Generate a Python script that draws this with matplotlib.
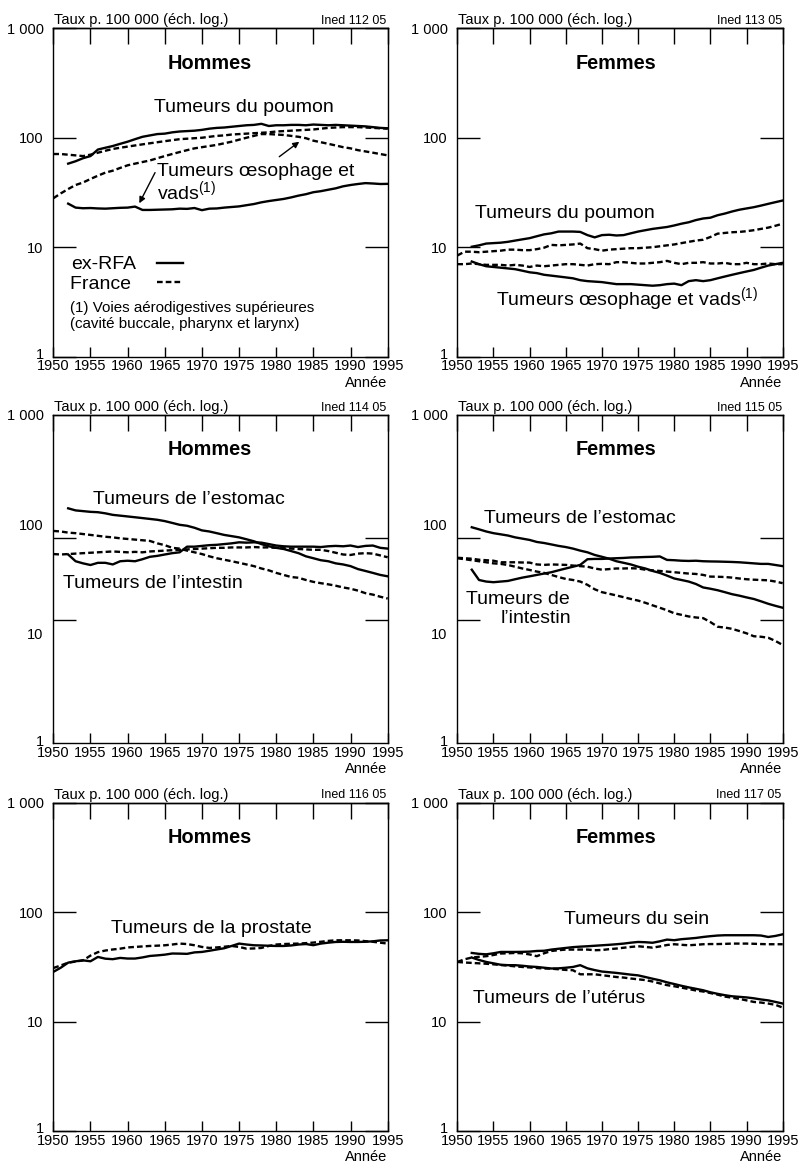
import matplotlib
matplotlib.use('Agg')
import matplotlib.pyplot as plt
import matplotlib.transforms as mtransforms
import numpy as np
from matplotlib.lines import Line2D
from matplotlib.ticker import FixedLocator, NullLocator, NullFormatter

plt.rcParams['font.family'] = ['Liberation Sans', 'DejaVu Sans']
plt.rcParams['mathtext.fontset'] = 'custom'
plt.rcParams['mathtext.rm'] = 'Liberation Sans'

# années : France dès 1950, ex-RFA dès 1952 (sauf prostate)
years_fr = np.arange(1950, 1996)
years_rfa = np.arange(1952, 1996)

# --- Hommes : poumon / oesophage et vads
h_rfa_poumon = [58, 61, 65, 68, 78, 81, 84, 88, 92, 97, 102, 105, 108, 109, 112, 114, 115, 116, 118, 121,
                123, 124, 126, 128, 130, 131, 134, 128, 130, 130, 131, 131, 130, 132, 131, 130, 131, 130, 129, 128,
                127, 125, 123, 122]
h_fr_poumon = [71, 71, 70, 69, 68, 70, 73, 76, 79, 81, 83, 85, 87, 89, 91, 93, 95, 97, 98, 99,
               100, 102, 104, 105, 107, 108, 109, 110, 111, 112, 114, 115, 116, 117, 118, 119, 121, 123, 124, 125,
               125, 125, 124, 123, 122, 121]
h_fr_oeso = [28, 31, 34, 37, 39, 42, 45, 48, 50, 53, 56, 58, 60, 62, 65, 68, 71, 74, 77, 80,
             82, 84, 86, 89, 92, 96, 100, 104, 108, 108, 107, 106, 104, 102, 99, 94, 91, 88, 85, 82,
             80, 77, 75, 73, 71, 69]
h_rfa_oeso = [25, 23, 22.7, 22.8, 22.6, 22.5, 22.7, 22.9, 23.0, 23.5, 21.9, 21.9, 22.0, 22.1, 22.2, 22.5, 22.4, 22.8, 21.8, 22.5,
              22.6, 23.0, 23.3, 23.6, 24.2, 24.8, 25.7, 26.4, 27.0, 27.6, 28.5, 29.6, 30.5, 31.8, 32.5, 33.5, 34.5, 36, 37, 37.8,
              38.5, 38.2, 37.8, 37.9]

# --- Femmes : poumon / oesophage et vads
f_rfa_poumon = [10.1, 10.4, 10.8, 10.9, 11.0, 11.2, 11.5, 11.8, 12.1, 12.6, 13.1, 13.4, 13.9, 13.9, 13.9, 13.8, 12.9, 12.3, 12.9, 13.0,
                12.8, 12.9, 13.4, 13.9, 14.3, 14.7, 15.0, 15.3, 15.8, 16.4, 16.9, 17.7, 18.3, 18.6, 19.6, 20.3, 21.2, 22.0, 22.6, 23.2,
                24.0, 24.9, 25.8, 26.7]
f_fr_poumon = [8.4, 9.1, 9.1, 9.0, 9.1, 9.2, 9.3, 9.5, 9.5, 9.4, 9.4, 9.6, 9.9, 10.5, 10.4, 10.5, 10.6, 10.8, 9.8, 9.6,
               9.3, 9.5, 9.6, 9.7, 9.8, 9.8, 9.9, 10.0, 10.2, 10.4, 10.6, 10.9, 11.2, 11.5, 11.7, 12.4, 13.3, 13.5, 13.7, 13.8,
               14.0, 14.3, 14.7, 15.1, 15.7, 16.4]
f_fr_oeso = [7.0, 7.0, 7.1, 7.0, 6.9, 6.9, 6.9, 6.8, 6.9, 6.8, 6.6, 6.8, 6.7, 6.8, 6.9, 7.0, 7.0, 6.9, 6.8, 7.0,
             7.05, 7.0, 7.3, 7.3, 7.2, 7.1, 7.1, 7.2, 7.3, 7.5, 7.2, 7.0, 7.2, 7.2, 7.3, 7.1, 7.1, 7.2, 7.0, 7.0,
             7.2, 7.0, 7.0, 7.1, 7.0, 7.0]
f_rfa_oeso = [7.4, 7.0, 6.7, 6.6, 6.5, 6.4, 6.3, 6.1, 5.9, 5.8, 5.6, 5.5, 5.4, 5.3, 5.2, 5.0, 4.9, 4.85, 4.8, 4.7,
              4.6, 4.6, 4.6, 4.55, 4.5, 4.45, 4.5, 4.6, 4.65, 4.5, 4.9, 5.0, 4.9, 5.0, 5.2, 5.4, 5.6, 5.8, 6.0, 6.2,
              6.5, 6.8, 7.0, 7.2]

# --- Hommes : estomac / intestin
h_rfa_estomac = [140, 134, 132, 130, 129, 126, 122, 120, 118, 116, 114, 112, 110, 107, 103, 99, 97, 93, 88, 86,
                 83, 80, 78, 76, 73, 70, 66, 63, 61, 59.5, 57, 54.5, 51, 49, 47, 46, 44, 43, 41.5, 39,
                 37.5, 36, 34.5, 33.5]
h_fr_estomac = [87, 86, 84, 83, 81.5, 80, 78.5, 77, 76, 74.5, 73.5, 72.5, 71.5, 70.5, 67, 64.5, 61, 60, 57.5, 55.5,
                53.5, 51, 49, 47.5, 46, 44.5, 43, 41.5, 39.5, 38, 36, 34.5, 33, 32.5, 31, 29.8, 29, 28.3, 27.5, 26.5,
                25.8, 24.8, 23.5, 22.8, 21.8, 21]
h_rfa_intestin = [53, 46, 44, 42.5, 44.5, 44.5, 43, 46, 46.5, 46, 48, 50.5, 51.5, 53, 54.5, 55.5, 62.5, 62.5, 63.5, 64.5,
                  65, 66, 67, 68.5, 68, 68.5, 68, 66, 64, 63, 62.5, 62.5, 62.5, 62.5, 62, 63, 63.5, 63, 64, 62,
                  63.5, 64, 61, 60]
h_fr_intestin = [53.5, 53, 53.5, 54, 54.5, 55, 55.5, 56, 56.5, 56, 55.5, 56, 55.5, 56.5, 57, 57.5, 58, 58.5, 59, 59.5,
                 60, 60.5, 61, 61, 61.5, 61.5, 61.5, 62, 61.5, 61.5, 61, 60.5, 60, 59.5, 59, 58.5, 58.5, 57, 55, 53,
                 52.5, 54, 54.5, 54, 52, 50]

# --- Femmes : estomac / intestin
f_rfa_estomac = [94, 90, 86, 83, 81, 79, 76, 74, 72, 69, 67.5, 65.5, 63.5, 62, 60, 57.5, 55.5, 52.5, 50.5, 48.5,
                 46, 44.5, 43, 41, 39.5, 37.5, 36, 34, 32, 31, 30, 28.5, 26.5, 25.8, 25, 24, 23, 22.3, 21.5, 20.8,
                 19.8, 18.8, 18, 17.3]
f_rfa_intestin = [38.5, 31, 30, 29.6, 30, 30.4, 31.5, 32.6, 33.5, 34.5, 35.5, 36.5, 38, 39.5, 41, 42.6, 48, 48.3, 48.3, 48.7,
                  49, 49.3, 49.8, 50, 50.3, 50.5, 50.9, 47.3, 47, 46.5, 46.3, 46.5, 46, 45.8, 45.7, 45.5, 45.3, 45, 44.5, 44,
                  43.5, 43.5, 42.5, 41.5]
f_fr_estomac = [49, 48, 47, 46, 45, 44, 43.5, 42.5, 41, 39.5, 38.3, 37, 36, 34.5, 33, 31.7, 31, 30, 28, 25.5,
                24, 23.2, 22.4, 21.6, 20.8, 20.1, 19.2, 18.2, 17.3, 16.4, 15.4, 14.9, 14.4, 14.1, 13.9, 12.8, 11.6, 11.4, 11.1, 10.6,
                10.1, 9.5, 9.4, 9.2, 8.6, 7.9]
f_fr_intestin = [49.5, 49, 48.5, 47.5, 47, 46.5, 45, 45, 45, 44.8, 44.7, 43, 42.6, 43, 42.8, 42.6, 42, 41.5, 41, 39.5,
                 38.5, 39, 39.5, 39.5, 39.7, 39.5, 38.5, 38, 37.5, 37, 36.5, 36, 35.5, 35.2, 34.5, 33.3, 33.2, 33, 32.6, 32,
                 31.5, 31.2, 31, 30.8, 30, 29]

# --- Hommes : prostate (les deux séries dès 1950)
h_rfa_prostate = [28.4, 31, 34.5, 35.5, 36.2, 35.5, 38.9, 37.5, 37.1, 38.1, 37.6, 37.6, 38.5, 39.7, 40.2, 40.8, 41.8, 41.7, 41.5, 42.8,
                  43.2, 44.3, 45.5, 46.7, 49, 51.5, 50.5, 49.7, 49.5, 49.2, 49, 49, 49.5, 50.5, 51, 49.8, 51.5, 52.5, 53.3, 53.5,
                  53.3, 53.3, 53.5, 54, 55, 55.2]
h_fr_prostate = [30.8, 32.5, 34.5, 35.3, 36.2, 40, 43, 44.5, 45.5, 46.3, 47.5, 48, 48.5, 49, 49.3, 49.7, 50.5, 51.5, 51, 49.7,
                 48, 47, 47.5, 48.2, 49, 48, 46.3, 46.5, 47, 49, 50.5, 51, 51.3, 51.5, 52, 52.6, 53.5, 54.5, 55.2, 55.2,
                 55.2, 55, 54.2, 53.5, 52.5, 51.5]

# --- Femmes : sein / utérus
f_rfa_sein = [42.3, 41.5, 41.1, 42, 43.2, 43.2, 43.2, 43.3, 43.5, 44.1, 44.3, 45.4, 46.2, 47, 47.8, 48.3, 48.7, 49.2, 49.7, 50.2,
              50.8, 51.5, 52.5, 53.3, 53, 52.4, 54, 56, 55.3, 56.5, 57.2, 58, 59.2, 60.2, 61, 61.4, 61.4, 61.4, 61.4, 61.4,
              61, 59.2, 60.5, 62.6]
f_fr_sein = [35, 37, 38.4, 39, 39.5, 40.5, 41.8, 42, 42.3, 42, 41, 39.5, 42, 44.1, 44.8, 45.4, 45.4, 45.4, 45.4, 44.8,
             45, 45.8, 46.4, 47.2, 48, 48.7, 48, 47.3, 48.5, 50, 50.8, 50.2, 49.7, 50.2, 50.8, 51, 51, 51.2, 51.5, 51.5,
             51.5, 51.3, 51, 50.8, 50.8, 50.8]
f_rfa_uterus = [38.4, 36.5, 35, 34, 33, 32.7, 32.7, 32.3, 31.8, 31.5, 31, 30.5, 30.6, 31, 31.5, 32.7, 30.6, 29.5, 28.6, 28.2,
                27.8, 27.3, 26.8, 26.4, 25.5, 24.6, 23.8, 22.8, 22, 21.2, 20.5, 19.9, 19.3, 18.5, 17.9, 17.4, 17, 16.8, 16.6, 16.3,
                15.9, 15.6, 15.1, 14.6]
f_fr_uterus = [35, 34.6, 34.3, 34, 33.7, 33.3, 32.8, 32.4, 31.9, 31.5, 31.2, 30.8, 30.5, 30.4, 30, 29.6, 29.4, 27, 27, 27,
               26.5, 26, 25.5, 25.2, 24.7, 24.3, 23.9, 23.2, 22.3, 21.5, 21, 20.4, 19.8, 19.2, 18.8, 18.2, 17.6, 16.9, 16.5, 16.1,
               15.6, 15.1, 14.9, 14.6, 14.2, 13.4]

xticks = list(range(1950, 2000, 5))
yticks = [1, 10, 100, 1000]
ytick_labels = ['1', '10', '100', '1 000']
codes = ['Ined 112 05', 'Ined 113 05', 'Ined 114 05', 'Ined 115 05', 'Ined 116 05', 'Ined 117 05']

DASH = (0, (2.4, 1.3))
LW = 1.7
AP = '\u2019'

fig = plt.figure(figsize=(8.04, 11.63), dpi=100)

col_left = [0.0663, 0.5688]
col_width = [0.4159, 0.4047]
row_bottom = [0.6933, 0.3609, 0.02752]
row_height = 0.2824


def solid(ax, x, y):
    ax.plot(x, y, color='black', lw=LW, solid_joinstyle='round')


def dashed(ax, x, y):
    ax.plot(x, y, color='black', lw=LW, linestyle=DASH, dash_capstyle='butt')


def setup(ax, code, sexe, title_x, odd_ticks=False):
    ax.set_yscale('log')
    ax.set_xlim(1950, 1995)
    ax.set_ylim(1, 1000)
    ax.set_xticks(xticks)
    ax.set_xticklabels([str(t) for t in xticks])
    ax.set_yticks(yticks)
    ax.set_yticklabels(ytick_labels)
    for s in ax.spines.values():
        s.set_linewidth(1.0)
    ax.tick_params(axis='x', direction='in', length=7.2, width=1, pad=2,
                   labelsize=10.5, top=False, bottom=True)
    ax.tick_params(axis='y', which='both', direction='in', length=16.5, width=1,
                   pad=7, labelsize=10.5, left=True, right=True)
    if odd_ticks:
        # dans l'original, les traits de repère sont décalés par rapport aux libellés
        ax.tick_params(axis='y', which='major', length=0)
        ax.yaxis.set_minor_locator(FixedLocator([10 ** 1.127, 10 ** 1.873]))
        ax.yaxis.set_minor_formatter(NullFormatter())
    else:
        ax.yaxis.set_minor_locator(NullLocator())
    # le libellé "1" est un peu remonté, au-dessus de "1950"
    lift = mtransforms.ScaledTranslation(0, 3 / 100, fig.dpi_scale_trans)
    ax.get_yticklabels()[0].set_transform(ax.get_yticklabels()[0].get_transform() + lift)

    top = ax.secondary_xaxis('top')
    top.set_xticks(xticks)
    top.set_xticklabels([])
    top.tick_params(direction='in', length=11.5, width=1)
    top.spines['top'].set_linewidth(1.0)

    ax.text(0.003, 1.012, 'Taux p. 100 000 (éch. log.)', transform=ax.transAxes,
            ha='left', va='baseline', fontsize=10.5)
    ax.text(0.997, 1.013, code, transform=ax.transAxes, ha='right', va='baseline', fontsize=9)
    ax.text(1.0, -0.079, 'Année', transform=ax.transAxes, ha='right', va='center', fontsize=10.5)
    ax.text(title_x, 0.893, sexe, transform=ax.transAxes, ha='center', va='center',
            fontsize=14.3, fontweight='bold')


axes = []
for r in range(3):
    for c in range(2):
        axes.append(fig.add_axes([col_left[c], row_bottom[r], col_width[c], row_height]))

FS = 14

# Panneau 1 : Hommes, poumon / oesophage
ax = axes[0]
setup(ax, codes[0], 'Hommes', 0.4686)
dashed(ax, years_fr, h_fr_poumon)
dashed(ax, years_fr, h_fr_oeso)
solid(ax, years_rfa, h_rfa_poumon)
solid(ax, years_rfa, h_rfa_oeso)
ax.text(1963.55, 173, 'Tumeurs du poumon', fontsize=FS, va='baseline')
ax.text(1964.0, 44.8, 'Tumeurs œsophage et', fontsize=FS, va='baseline')
ax.text(1964.0, 27, r'vads$^{\mathrm{(1)}}$', fontsize=FS, va='baseline')
ax.annotate('', xy=(1961.57, 25.2), xytext=(1963.69, 48),
            arrowprops=dict(arrowstyle='-|>', lw=1, color='black', mutation_scale=9, shrinkA=0, shrinkB=0))
ax.annotate('', xy=(1983.1, 92), xytext=(1980.41, 67.1),
            arrowprops=dict(arrowstyle='-|>', lw=1, color='black', mutation_scale=9, shrinkA=0, shrinkB=0))
handles = [Line2D([], [], color='black', lw=LW),
           Line2D([], [], color='black', lw=LW, linestyle=DASH)]
# espace insécable final : "France" reste calé à gauche comme "ex-RFA"
ax.legend(handles, ['ex-RFA', 'France\u00a0'], loc='upper left', bbox_to_anchor=(0.05, 0.307),
          frameon=False, markerfirst=False, fontsize=FS, handlelength=1.37,
          handletextpad=1.05, labelspacing=0.1, borderpad=0, borderaxespad=0)
ax.text(0.05, 0.124, '(1) Voies aérodigestives supérieures\n(cavité buccale, pharynx et larynx)',
        transform=ax.transAxes, ha='left', va='center', fontsize=10.9, linespacing=1.2)

# Panneau 2 : Femmes, poumon / oesophage
ax = axes[1]
setup(ax, codes[1], 'Femmes', 0.4877)
dashed(ax, years_fr, f_fr_poumon)
dashed(ax, years_fr, f_fr_oeso)
solid(ax, years_rfa, f_rfa_poumon)
solid(ax, years_rfa, f_rfa_oeso)
ax.text(1952.45, 18.4, 'Tumeurs du poumon', fontsize=FS, va='baseline')
ax.text(1955.35, 2.9, r'Tumeurs œsophage et vads$^{\mathrm{(1)}}$', fontsize=FS, va='baseline')

# Panneau 3 : Hommes, estomac / intestin
ax = axes[2]
setup(ax, codes[2], 'Hommes', 0.4686, odd_ticks=True)
dashed(ax, years_fr, h_fr_estomac)
dashed(ax, years_fr, h_fr_intestin)
solid(ax, years_rfa, h_rfa_estomac)
solid(ax, years_rfa, h_rfa_intestin)
ax.text(1955.3, 153.8, 'Tumeurs de l' + AP + 'estomac', fontsize=FS, va='baseline')
ax.text(1951.35, 26.1, 'Tumeurs de l' + AP + 'intestin', fontsize=FS, va='baseline')

# Panneau 4 : Femmes, estomac / intestin
ax = axes[3]
setup(ax, codes[3], 'Femmes', 0.4877, odd_ticks=True)
dashed(ax, years_fr, f_fr_estomac)
dashed(ax, years_fr, f_fr_intestin)
solid(ax, years_rfa, f_rfa_estomac)
solid(ax, years_rfa, f_rfa_intestin)
ax.text(1953.7, 103.7, 'Tumeurs de l' + AP + 'estomac', fontsize=FS, va='baseline')
ax.text(1965.5, 18.7, 'Tumeurs de', fontsize=FS, va='baseline', ha='right')
ax.text(1965.7, 12.5, 'l' + AP + 'intestin', fontsize=FS, va='baseline', ha='right')

# Panneau 5 : Hommes, prostate
ax = axes[4]
setup(ax, codes[4], 'Hommes', 0.4686)
dashed(ax, years_fr, h_fr_prostate)
solid(ax, years_fr, h_rfa_prostate)
ax.text(1957.7, 64.4, 'Tumeurs de la prostate', fontsize=FS, va='baseline')

# Panneau 6 : Femmes, sein / utérus
ax = axes[5]
setup(ax, codes[5], 'Femmes', 0.4877)
dashed(ax, years_fr, f_fr_sein)
dashed(ax, years_fr, f_fr_uterus)
solid(ax, years_rfa, f_rfa_sein)
solid(ax, years_rfa, f_rfa_uterus)
ax.text(1964.8, 78.5, 'Tumeurs du sein', fontsize=FS, va='baseline')
ax.text(1952.2, 14.9, 'Tumeurs de l' + AP + 'utérus', fontsize=FS, va='baseline')

fig.savefig('out.png', dpi=100)
